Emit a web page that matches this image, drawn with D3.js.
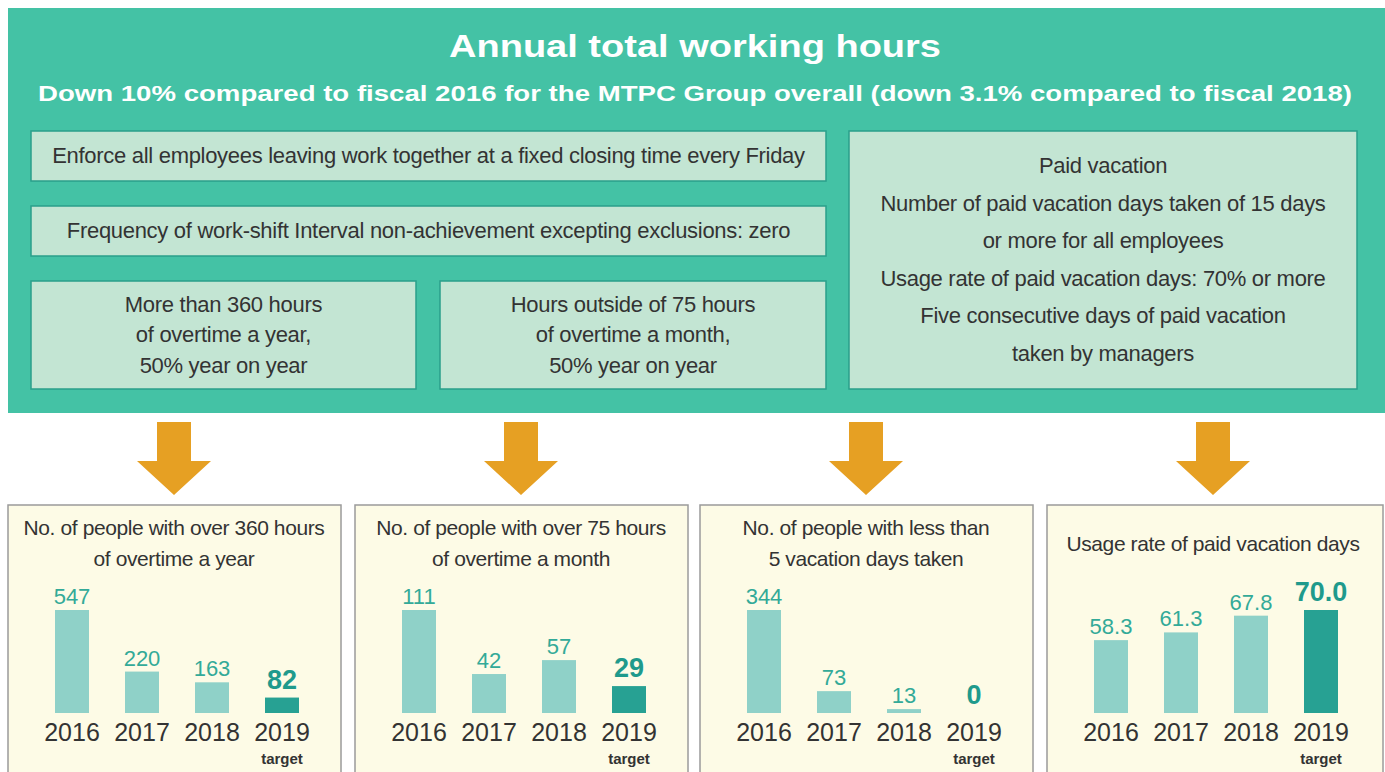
<!DOCTYPE html>
<html lang="en">
<head>
<meta charset="utf-8">
<title>Annual total working hours</title>
<script src="https://d3js.org/d3.v7.min.js"></script>
<style>
  body { margin: 0; background: #ffffff; }
  text { font-family: "Liberation Sans", Arial, sans-serif; }
</style>
</head>
<body>
<div id="chart"></div>
<script>
// ---- data ----
var years = ["2016", "2017", "2018", "2019"];
var overtimeYear = [547, 220, 163, 82];
var overtimeMonth = [111, 42, 57, 29];
var fewVacation = [344, 73, 13, 0];
var usageRate = [58.3, 61.3, 67.8, 70.0];

var headTitle = "Annual total working hours";
var headSub = "Down 10% compared to fiscal 2016 for the MTPC Group overall (down 3.1% compared to fiscal 2018)";

var measureBoxes = [
  {x: 31, y: 131, w: 795, h: 50, lines: ["Enforce all employees leaving work together at a fixed closing time every Friday"]},
  {x: 31, y: 206, w: 795, h: 50, lines: ["Frequency of work-shift Interval non-achievement excepting exclusions: zero"]},
  {x: 31, y: 281, w: 385, h: 108, lines: ["More than 360 hours", "of overtime a year,", "50% year on year"]},
  {x: 440, y: 281, w: 386, h: 108, lines: ["Hours outside of 75 hours", "of overtime a month,", "50% year on year"]},
  {x: 849, y: 131, w: 508, h: 258, lines: ["Paid vacation", "Number of paid vacation days taken of 15 days",
     "or more for all employees", "Usage rate of paid vacation days: 70% or more",
     "Five consecutive days of paid vacation", "taken by managers"]}
];

var panelTitles = [
  ["No. of people with over 360 hours", "of overtime a year"],
  ["No. of people with over 75 hours", "of overtime a month"],
  ["No. of people with less than", "5 vacation days taken"],
  ["Usage rate of paid vacation days"]
];
var panelValues = [overtimeYear, overtimeMonth, fewVacation, usageRate];
var panelDomains = [[0, 547], [0, 111], [0, 344], [30, 70]];
var panelFormats = [d3.format("d"), d3.format("d"), d3.format("d"), d3.format(".1f")];
var panelLefts = [8, 355, 700, 1047];

// ---- drawing ----
var W = 1385, H = 772;
var svg = d3.select("#chart").append("svg")
  .attr("width", W).attr("height", H);

// green header block
svg.append("rect")
  .attr("x", 8).attr("y", 8).attr("width", W - 8).attr("height", 405)
  .attr("fill", "#44c2a5");

svg.append("text")
  .attr("x", 695).attr("y", 57)
  .attr("text-anchor", "middle")
  .attr("fill", "#ffffff")
  .style("font-weight", "bold").style("font-size", "32px")
  .attr("textLength", 492).attr("lengthAdjust", "spacingAndGlyphs")
  .text(headTitle);

svg.append("text")
  .attr("x", 695).attr("y", 101)
  .attr("text-anchor", "middle")
  .attr("fill", "#ffffff")
  .style("font-weight", "bold").style("font-size", "22px")
  .attr("textLength", 1314).attr("lengthAdjust", "spacingAndGlyphs")
  .text(headSub);

// measure boxes inside the green block
var box = svg.selectAll("g.box").data(measureBoxes).enter().append("g").attr("class", "box");
box.append("rect")
  .attr("x", function(d) { return d.x; })
  .attr("y", function(d) { return d.y; })
  .attr("width", function(d) { return d.w; })
  .attr("height", function(d) { return d.h; })
  .attr("fill", "#c3e5d3")
  .attr("stroke", "#2a9f8a").attr("stroke-width", 1.5);
box.each(function(d) {
  var n = d.lines.length;
  var gap = n > 3 ? 37.5 : 30.5;
  var y0 = d.y + d.h / 2 - gap * (n - 1) / 2 + 7;
  d3.select(this).selectAll("text").data(d.lines).enter().append("text")
    .attr("x", d.x + d.w / 2)
    .attr("y", function(t, i) { return y0 + i * gap; })
    .attr("text-anchor", "middle")
    .attr("fill", "#333333")
    .style("font-size", "22px")
    .style("letter-spacing", "-0.3px")
    .text(function(t) { return t; });
});

// panels with arrows and bar charts
var x = d3.scalePoint().domain(years).range([64, 274]);
var barW = 34, barBase = 713, barTop = 610;

panelLefts.forEach(function(left, p) {
  var g = svg.append("g").attr("transform", "translate(" + left + ",0)");
  var cx = 166;

  // arrow
  var a = d3.path();
  a.moveTo(cx - 17, 422); a.lineTo(cx + 17, 422); a.lineTo(cx + 17, 461);
  a.lineTo(cx + 37, 461); a.lineTo(cx, 495); a.lineTo(cx - 37, 461);
  a.lineTo(cx - 17, 461); a.closePath();
  g.append("path").attr("d", a.toString()).attr("fill", "#e6a023");

  g.append("rect")
    .attr("x", 0).attr("y", 505).attr("width", p === 3 ? 336 : 333).attr("height", 280)
    .attr("fill", "#fdfbe6").attr("stroke", "#9b9b9b").attr("stroke-width", 1.5);

  var tl = panelTitles[p];
  g.selectAll("text.ptitle").data(tl).enter().append("text")
    .attr("class", "ptitle")
    .attr("x", cx)
    .attr("y", function(t, i) { return tl.length === 1 ? 551 : 535 + i * 31; })
    .attr("text-anchor", "middle")
    .attr("fill", "#333333")
    .style("font-size", "21px")
    .style("letter-spacing", "-0.4px")
    .text(function(t) { return t; });

  var y = d3.scaleLinear().domain(panelDomains[p]).range([barBase, barTop]);
  var vals = panelValues[p];
  var fmt = panelFormats[p];

  g.selectAll("rect.bar").data(vals).enter().append("rect")
    .attr("class", "bar")
    .attr("x", function(d, i) { return x(years[i]) - barW / 2; })
    .attr("y", function(d) { return y(d); })
    .attr("width", barW)
    .attr("height", function(d) { return barBase - y(d); })
    .attr("fill", function(d, i) { return i === 3 ? "#27a193" : "#8fd1c8"; });

  g.selectAll("text.val").data(vals).enter().append("text")
    .attr("class", "val")
    .attr("x", function(d, i) { return x(years[i]); })
    .attr("y", function(d, i) { return y(d) - (i === 3 ? 9 : 6); })
    .attr("text-anchor", "middle")
    .attr("fill", function(d, i) { return i === 3 ? "#1f9a8c" : "#33aa98"; })
    .style("font-size", function(d, i) { return i === 3 ? "27px" : "22px"; })
    .style("font-weight", function(d, i) { return i === 3 ? "bold" : "normal"; })
    .text(function(d) { return fmt(d); });

  g.selectAll("text.year").data(years).enter().append("text")
    .attr("class", "year")
    .attr("x", function(d) { return x(d); })
    .attr("y", 741)
    .attr("text-anchor", "middle")
    .attr("fill", "#333333")
    .style("font-size", "25px")
    .text(function(d) { return d; });

  g.append("text")
    .attr("x", x(years[3])).attr("y", 764)
    .attr("text-anchor", "middle")
    .attr("fill", "#333333")
    .style("font-size", "15px").style("font-weight", "bold")
    .text("target");
});
</script>
</body>
</html>
